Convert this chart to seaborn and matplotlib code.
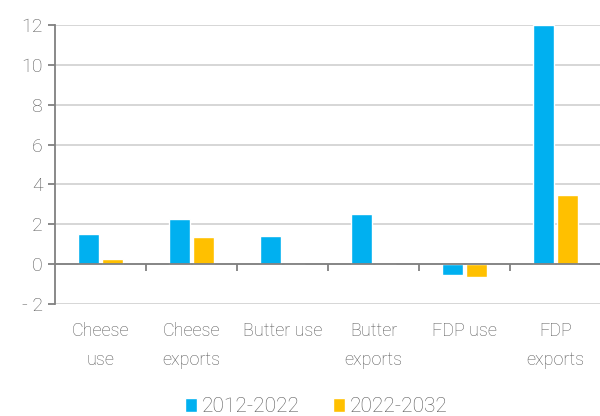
import pandas as pd
import matplotlib.pyplot as plt
import seaborn as sns

# Data
categories = ["Cheese\nuse", "Cheese\nexports", "Butter use", "Butter\nexports", "FDP use", "FDP\nexports"]
series = ["2012-2022", "2022-2032"]
values_2012 = [1.52, 2.28, 1.42, 2.52, -0.55, 12.0]
values_2022 = [0.27, 1.38, 0.0, 0.0, -0.65, 3.48]
yticks = [-2, 0, 2, 4, 6, 8, 10, 12]
ytick_labels = ["- 2", "0", "2", "4", "6", "8", "10", "12"]
colors = ["#00B0F0", "#FFC000"]

df = pd.DataFrame({
    "category": categories * 2,
    "period": [series[0]] * len(categories) + [series[1]] * len(categories),
    "value": values_2012 + values_2022,
})

sns.set_style("white")
plt.rcParams["font.family"] = ["Roboto", "DejaVu Sans"]
plt.rcParams["font.weight"] = "light"

fig = plt.figure(figsize=(6, 4.16), dpi=100)
ax = fig.add_axes([0.092, 0.269, 0.91, 0.671])

sns.barplot(
    data=df, x="category", y="value", hue="period",
    palette=colors, width=0.52, gap=0.12, ax=ax,
    saturation=1, legend=True
)

grey = "#595959"
ax.set_ylim(-2, 12)
ax.set_xlim(-0.5, len(categories) - 0.5)
ax.set_yticks(yticks)
ax.set_yticklabels(ytick_labels)
ax.yaxis.grid(True, color="#d0d0d0", linewidth=1.2)
ax.set_axisbelow(True)

for s in ["top", "right", "bottom"]:
    ax.spines[s].set_visible(False)
ax.spines["left"].set_color("#808080")
ax.spines["left"].set_linewidth(1.3)

# zero line and category separators
ax.axhline(0, color="#808080", linewidth=1.3, zorder=3)
ax.vlines([i + 0.5 for i in range(len(categories) - 1)], -0.35, 0,
          color="#808080", linewidth=1.3, zorder=3)

ax.tick_params(axis="y", direction="out", length=5, color="#808080",
               width=1.3, labelsize=14, labelcolor=grey, pad=4, left=True)
ax.tick_params(axis="x", length=0, labelsize=13, labelcolor=grey, pad=13)
for lbl in ax.get_xticklabels():
    lbl.set_linespacing(1.75)
ax.set_xlabel("")
ax.set_ylabel("")

leg = ax.legend(loc="center", bbox_to_anchor=(0.527, 0.022), bbox_transform=fig.transFigure,
                ncol=2, frameon=False, fontsize=15, handlelength=0.6, handleheight=0.7,
                handletextpad=0.2, columnspacing=1.6, labelcolor=grey)

plt.savefig("out.png", dpi=100)
